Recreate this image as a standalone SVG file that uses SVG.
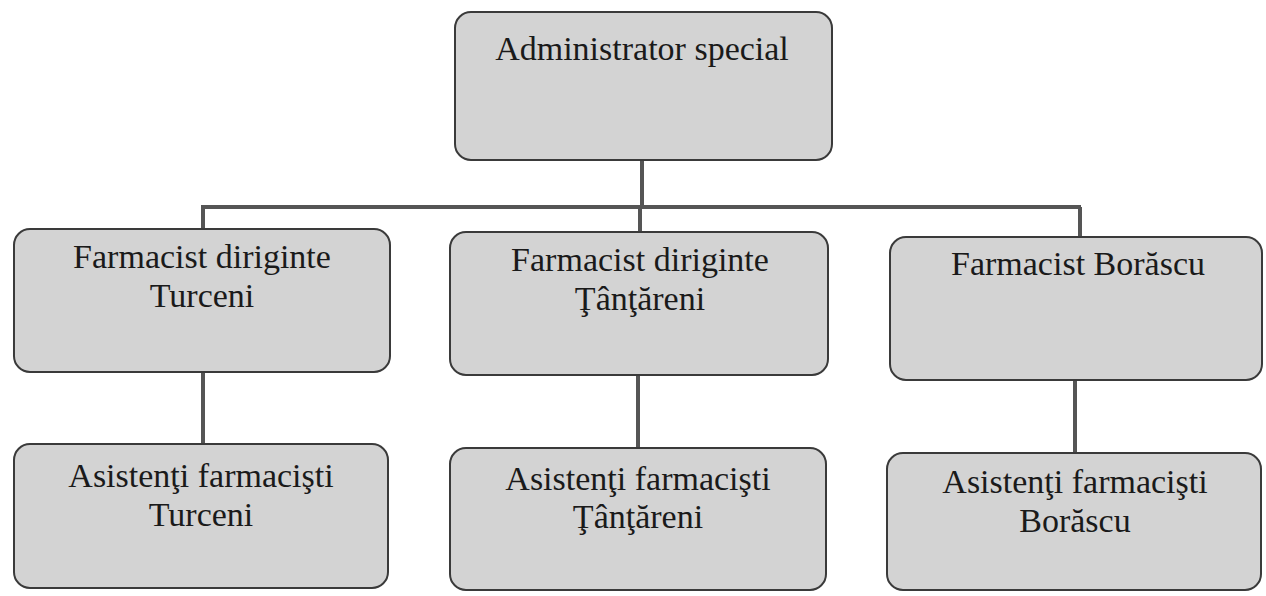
<svg xmlns="http://www.w3.org/2000/svg" width="1266" height="596" viewBox="0 0 1266 596">
<style>
.box{fill:#d3d3d3;stroke:#3a3a3a;stroke-width:2}
.c{stroke:#555;stroke-width:4;fill:none}
</style>
<rect width="1266" height="596" fill="#ffffff"/>
<g id="connectors">
<line class="c" x1="642" y1="160" x2="642" y2="207"/>
<line class="c" x1="201" y1="207" x2="1081" y2="207"/>
<line class="c" x1="203" y1="207" x2="203" y2="229"/>
<line class="c" x1="640" y1="207" x2="640" y2="232"/>
<line class="c" x1="1080" y1="207" x2="1080" y2="237"/>
<line class="c" x1="203" y1="372" x2="203" y2="444"/>
<line class="c" x1="638" y1="375" x2="638" y2="448"/>
<line class="c" x1="1075" y1="380" x2="1075" y2="453"/>
</g>
<g id="admin">
<rect class="box" x="455" y="12" width="377" height="148" rx="16"/>
<text x="642" y="60" style="font-family:'Liberation Serif',serif;font-size:34px;fill:#1a1a1a;text-anchor:middle">Administrator special</text>
</g>
<g id="farm-turceni">
<rect class="box" x="14" y="229" width="376" height="143" rx="16"/>
<text x="202" y="268" style="font-family:'Liberation Serif',serif;font-size:34px;fill:#1a1a1a;text-anchor:middle">Farmacist diriginte</text>
<text x="202" y="307" style="font-family:'Liberation Serif',serif;font-size:34px;fill:#1a1a1a;text-anchor:middle">Turceni</text>
</g>
<g id="farm-tantareni">
<rect class="box" x="450" y="232" width="378" height="143" rx="16"/>
<text x="640" y="271" style="font-family:'Liberation Serif',serif;font-size:34px;fill:#1a1a1a;text-anchor:middle">Farmacist diriginte</text>
<text x="640" y="310" style="font-family:'Liberation Serif',serif;font-size:34px;fill:#1a1a1a;text-anchor:middle">Ţânţăreni</text>
</g>
<g id="farm-borascu">
<rect class="box" x="890" y="237" width="372" height="143" rx="16"/>
<text x="1078" y="275" style="font-family:'Liberation Serif',serif;font-size:34px;fill:#1a1a1a;text-anchor:middle">Farmacist Borăscu</text>
</g>
<g id="asist-turceni">
<rect class="box" x="14" y="444" width="374" height="144" rx="16"/>
<text x="201" y="487" style="font-family:'Liberation Serif',serif;font-size:34px;fill:#1a1a1a;text-anchor:middle">Asistenţi farmacişti</text>
<text x="201" y="526" style="font-family:'Liberation Serif',serif;font-size:34px;fill:#1a1a1a;text-anchor:middle">Turceni</text>
</g>
<g id="asist-tantareni">
<rect class="box" x="450" y="448" width="376" height="142" rx="16"/>
<text x="638" y="490" style="font-family:'Liberation Serif',serif;font-size:34px;fill:#1a1a1a;text-anchor:middle">Asistenţi farmacişti</text>
<text x="638" y="528" style="font-family:'Liberation Serif',serif;font-size:34px;fill:#1a1a1a;text-anchor:middle">Ţânţăreni</text>
</g>
<g id="asist-borascu">
<rect class="box" x="887" y="453" width="374" height="137" rx="16"/>
<text x="1075" y="493" style="font-family:'Liberation Serif',serif;font-size:34px;fill:#1a1a1a;text-anchor:middle">Asistenţi farmacişti</text>
<text x="1075" y="532" style="font-family:'Liberation Serif',serif;font-size:34px;fill:#1a1a1a;text-anchor:middle">Borăscu</text>
</g>
</svg>
